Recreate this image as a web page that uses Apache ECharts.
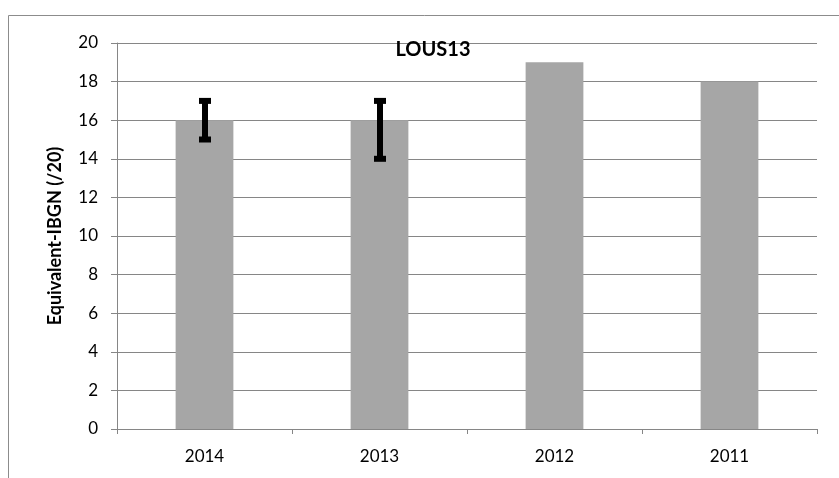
<!DOCTYPE html>
<html>
<head>
<meta charset="utf-8">
<script src="https://cdn.jsdelivr.net/npm/echarts@6/dist/echarts.min.js"></script>
<style>
html,body{margin:0;padding:0;background:#fff;}
#chart{width:839px;height:478px;}
</style>
</head>
<body>
<div id="chart"></div>
<script>
// Yearly Equivalent-IBGN scores for station LOUS13
const years = ['2014', '2013', '2012', '2011'];
const scores = [16, 16, 19, 18];
// Error bar bounds (null where no range is given)
const errLow = [15, 14, null, null];
const errHigh = [17, 17, null, null];
const yTicks = [0, 2, 4, 6, 8, 10, 12, 14, 16, 18, 20];

const FONT = 'Lato, "Open Sans", sans-serif';
const chart = echarts.init(document.getElementById('chart'));

const errData = years.map((y, i) => errLow[i] == null ? null : [i, errLow[i], errHigh[i]]).filter(d => d);

chart.setOption({
  animation: false,
  graphic: [{
    type: 'rect',
    shape: { x: 8.5, y: 15.5, width: 840, height: 480 },
    style: { fill: 'none', stroke: '#8c8c8c', lineWidth: 1 },
    silent: true
  }],
  title: {
    text: 'LOUS13',
    left: 428, top: 33, textAlign: 'center',
    textStyle: { fontFamily: FONT, fontWeight: 'bold', fontSize: 20, lineHeight: 24, color: '#000' }
  },
  grid: { left: 117, right: 22, top: 43, bottom: 49, containLabel: false },
  xAxis: {
    type: 'category',
    data: years,
    axisLine: { lineStyle: { color: '#868686', width: 1 } },
    axisTick: { show: true, length: 5, alignWithLabel: false, lineStyle: { color: '#868686' } },
    axisLabel: { fontFamily: FONT, fontSize: 17, color: '#000', margin: 19 }
  },
  yAxis: {
    type: 'value',
    min: yTicks[0], max: yTicks[yTicks.length - 1], interval: 2,
    name: 'Equivalent-IBGN (/20)',
    nameLocation: 'middle', nameGap: 53, nameRotate: 90,
    nameTextStyle: { fontFamily: FONT, fontWeight: 'bold', fontSize: 18, color: '#000' },
    axisLine: { show: true, lineStyle: { color: '#868686' } },
    axisTick: { show: true, length: 6, inside: false, lineStyle: { color: '#868686' } },
    axisLabel: { fontFamily: FONT, fontSize: 17, color: '#000', margin: 19 },
    splitLine: { lineStyle: { color: '#868686', width: 1 } }
  },
  series: [
    {
      type: 'bar',
      data: scores,
      barWidth: '33%',
      itemStyle: { color: '#a6a6a6' }
    },
    {
      type: 'custom',
      data: errData,
      z: 10,
      renderItem: function (params, api) {
        const lo = api.coord([api.value(0), api.value(1)]);
        const hi = api.coord([api.value(0), api.value(2)]);
        const cx = Math.round(lo[0]);
        const capW = 12, capH = 6, lw = 6;
        return {
          type: 'group',
          children: [
            { type: 'rect', shape: { x: cx - lw / 2, y: hi[1], width: lw, height: lo[1] - hi[1] }, style: { fill: '#000' } },
            { type: 'rect', shape: { x: cx - capW / 2, y: hi[1] - capH / 2, width: capW, height: capH }, style: { fill: '#000' } },
            { type: 'rect', shape: { x: cx - capW / 2, y: lo[1] - capH / 2, width: capW, height: capH }, style: { fill: '#000' } }
          ]
        };
      }
    }
  ]
});
</script>
</body>
</html>
